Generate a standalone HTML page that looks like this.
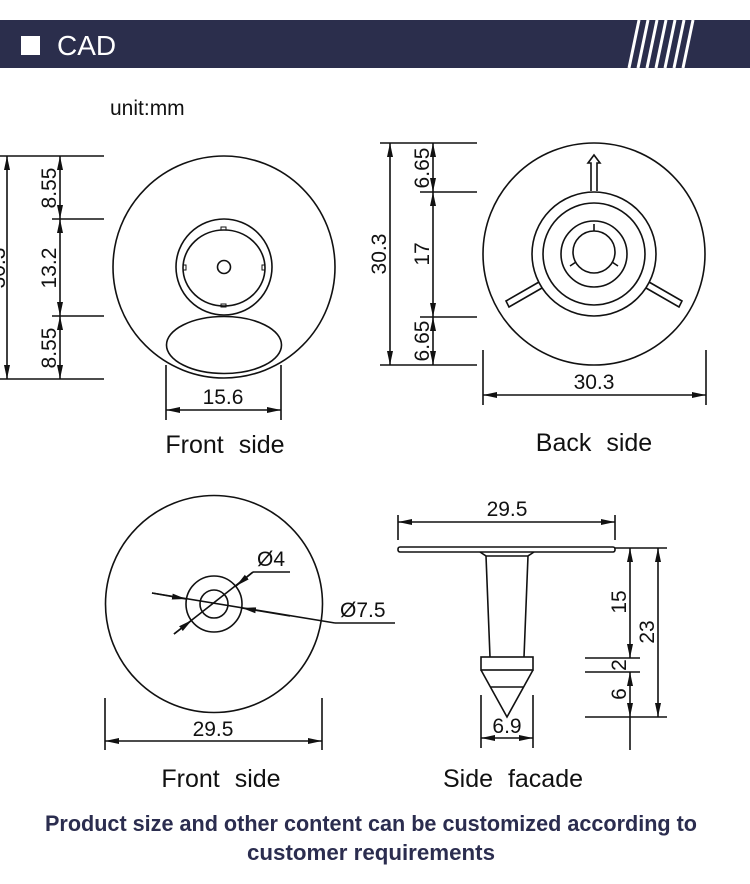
<!DOCTYPE html>
<html><head><meta charset="utf-8"><style>
html,body{margin:0;padding:0;background:#fff;width:750px;height:884px;overflow:hidden}
svg{display:block}
text{font-family:"Liberation Sans",sans-serif;fill:#111}
</style></head><body>
<svg width="750" height="884" viewBox="0 0 750 884" xmlns="http://www.w3.org/2000/svg">
<defs>
<marker id="a" viewBox="0 0 14 7" refX="14" refY="3.5" markerWidth="14" markerHeight="7" markerUnits="userSpaceOnUse" orient="auto-start-reverse"><path d="M0,0.5 L14,3.5 L0,6.5 Z" fill="#111"/></marker>
</defs>
<rect x="0" y="20" width="750" height="48" fill="#2b2e4c"/>
<rect x="21" y="36" width="19" height="19" fill="#fff"/>
<text x="57" y="55" font-size="28" style="fill:#fff">CAD</text>
<g stroke="#fff" stroke-width="3">
<line x1="629" y1="68" x2="639" y2="20"/><line x1="638" y1="68" x2="648" y2="20"/><line x1="647" y1="68" x2="657" y2="20"/><line x1="656" y1="68" x2="666" y2="20"/><line x1="665" y1="68" x2="675" y2="20"/><line x1="674" y1="68" x2="684" y2="20"/><line x1="683" y1="68" x2="693" y2="20"/>
</g>
<text x="110" y="115" font-size="21">unit:mm</text>

<g fill="none" stroke="#111" stroke-width="1.6">
<!-- front side top -->
<circle cx="224" cy="267" r="111"/>
<circle cx="224" cy="267" r="48"/>
<ellipse cx="224" cy="268" rx="41" ry="38"/>
<circle cx="224" cy="267" r="6.5"/>
<rect x="221" y="227" width="5" height="3" stroke-width="1"/><rect x="221" y="304" width="5" height="3" stroke-width="1"/>
<rect x="183" y="265" width="3" height="5" stroke-width="1"/><rect x="262" y="265" width="3" height="5" stroke-width="1"/>
<ellipse cx="224" cy="345" rx="57.5" ry="28.5"/>
<line x1="0" y1="156" x2="104" y2="156"/><line x1="52" y1="219" x2="104" y2="219"/>
<line x1="52" y1="316" x2="104" y2="316"/><line x1="0" y1="379" x2="104" y2="379"/>
<line x1="7" y1="156" x2="7" y2="379" marker-start="url(#a)" marker-end="url(#a)"/>
<line x1="60" y1="156" x2="60" y2="219" marker-start="url(#a)" marker-end="url(#a)"/>
<line x1="60" y1="219" x2="60" y2="316" marker-start="url(#a)" marker-end="url(#a)"/>
<line x1="60" y1="316" x2="60" y2="379" marker-start="url(#a)" marker-end="url(#a)"/>
<line x1="166" y1="365" x2="166" y2="420"/><line x1="281" y1="365" x2="281" y2="420"/>
<line x1="166" y1="410" x2="281" y2="410" marker-start="url(#a)" marker-end="url(#a)"/>

<!-- back side -->
<circle cx="594" cy="254" r="111"/>
<circle cx="594" cy="254" r="62"/>
<circle cx="594" cy="254" r="51"/>
<circle cx="594" cy="254" r="33"/>
<circle cx="594" cy="252" r="21"/>
<line x1="594" y1="231" x2="594" y2="224"/>
<line x1="576" y1="262" x2="570" y2="266"/>
<line x1="612" y1="262" x2="618" y2="266"/>
<path d="M591,191 L591,163 L588,163 L594,155 L600,163 L597,163 L597,191"/>
<path d="M539,282 L506,301 L509,307 L542,288"/>
<path d="M649,282 L682,301 L679,307 L646,288"/>
<line x1="380" y1="143" x2="477" y2="143"/><line x1="420" y1="192" x2="477" y2="192"/>
<line x1="420" y1="317" x2="477" y2="317"/><line x1="380" y1="365" x2="477" y2="365"/>
<line x1="390" y1="143" x2="390" y2="365" marker-start="url(#a)" marker-end="url(#a)"/>
<line x1="433" y1="143" x2="433" y2="192" marker-start="url(#a)" marker-end="url(#a)"/>
<line x1="433" y1="192" x2="433" y2="317" marker-start="url(#a)" marker-end="url(#a)"/>
<line x1="433" y1="317" x2="433" y2="365" marker-start="url(#a)" marker-end="url(#a)"/>
<line x1="483" y1="350" x2="483" y2="405"/><line x1="706" y1="350" x2="706" y2="405"/>
<line x1="483" y1="395" x2="706" y2="395" marker-start="url(#a)" marker-end="url(#a)"/>

<!-- front side bottom -->
<circle cx="214" cy="604" r="108.5"/>
<circle cx="214" cy="604" r="28"/>
<circle cx="214" cy="604" r="14"/>
<line x1="174" y1="634" x2="253" y2="572"/>
<line x1="253" y1="572" x2="290" y2="572"/>
<line x1="174" y1="634" x2="192" y2="620" marker-end="url(#a)"/>
<line x1="253" y1="572" x2="236" y2="586" marker-end="url(#a)"/>
<line x1="152" y1="593" x2="335" y2="623"/>
<line x1="335" y1="623" x2="395" y2="623"/>
<line x1="152" y1="593" x2="186" y2="599" marker-end="url(#a)"/>
<line x1="290" y1="616" x2="242" y2="608" marker-end="url(#a)"/>
<line x1="105" y1="698" x2="105" y2="750"/><line x1="322" y1="698" x2="322" y2="750"/>
<line x1="105" y1="741" x2="322" y2="741" marker-start="url(#a)" marker-end="url(#a)"/>

<!-- side facade -->
<rect x="398" y="547" width="217" height="5" rx="2"/>
<path d="M480,552 L486,556 L490,657 M534,552 L528,556 L524,657 M486,556 L528,556"/>
<rect x="481" y="657" width="52" height="13"/>
<path d="M481,670 L507,717 L533,670"/>
<line x1="490" y1="687" x2="524" y2="687"/>
<line x1="481" y1="695" x2="481" y2="748"/><line x1="533" y1="695" x2="533" y2="748"/>
<line x1="481" y1="738" x2="533" y2="738" marker-start="url(#a)" marker-end="url(#a)"/>
<line x1="398" y1="515" x2="398" y2="540"/><line x1="615" y1="515" x2="615" y2="540"/>
<line x1="398" y1="522" x2="615" y2="522" marker-start="url(#a)" marker-end="url(#a)"/>
<line x1="615" y1="548" x2="667" y2="548"/>
<line x1="585" y1="658" x2="640" y2="658"/><line x1="585" y1="672" x2="640" y2="672"/>
<line x1="585" y1="717" x2="667" y2="717"/>
<line x1="630" y1="548" x2="630" y2="658" marker-start="url(#a)" marker-end="url(#a)"/>
<line x1="630" y1="672" x2="630" y2="717" marker-start="url(#a)" marker-end="url(#a)"/>
<line x1="630" y1="717" x2="630" y2="750"/>
<line x1="658" y1="548" x2="658" y2="717" marker-start="url(#a)" marker-end="url(#a)"/>
</g>

<g font-size="21">
<text transform="translate(56,188) rotate(-90)" text-anchor="middle">8.55</text>
<text transform="translate(56,268) rotate(-90)" text-anchor="middle">13.2</text>
<text transform="translate(56,348) rotate(-90)" text-anchor="middle">8.55</text>
<text transform="translate(5,268) rotate(-90)" text-anchor="middle">30.3</text>
<text x="223" y="404" text-anchor="middle">15.6</text>
<text transform="translate(386,254) rotate(-90)" text-anchor="middle">30.3</text>
<text transform="translate(429,168) rotate(-90)" text-anchor="middle">6.65</text>
<text transform="translate(429,254) rotate(-90)" text-anchor="middle">17</text>
<text transform="translate(429,341) rotate(-90)" text-anchor="middle">6.65</text>
<text x="594" y="389" text-anchor="middle">30.3</text>
<text x="257" y="566">Ø4</text>
<text x="340" y="617">Ø7.5</text>
<text x="213" y="736" text-anchor="middle">29.5</text>
<text x="507" y="516" text-anchor="middle">29.5</text>
<text x="507" y="733" text-anchor="middle">6.9</text>
<text transform="translate(626,602) rotate(-90)" text-anchor="middle">15</text>
<text transform="translate(654,632) rotate(-90)" text-anchor="middle">23</text>
<text transform="translate(626,665) rotate(-90)" text-anchor="middle">2</text>
<text transform="translate(626,694) rotate(-90)" text-anchor="middle">6</text>
</g>
<g font-size="25" word-spacing="8">
<text x="225" y="453" text-anchor="middle">Front side</text>
<text x="594" y="451" text-anchor="middle">Back side</text>
<text x="221" y="787" text-anchor="middle">Front side</text>
<text x="513" y="787" text-anchor="middle">Side facade</text>
</g>
<g font-size="22" font-weight="bold">
<text x="45" y="831" textLength="652" lengthAdjust="spacingAndGlyphs" style="fill:#2b2d4f">Product size and other content can be customized according to</text>
<text x="247" y="860" textLength="248" lengthAdjust="spacingAndGlyphs" style="fill:#2b2d4f">customer requirements</text>
</g>
</svg>
</body></html>
